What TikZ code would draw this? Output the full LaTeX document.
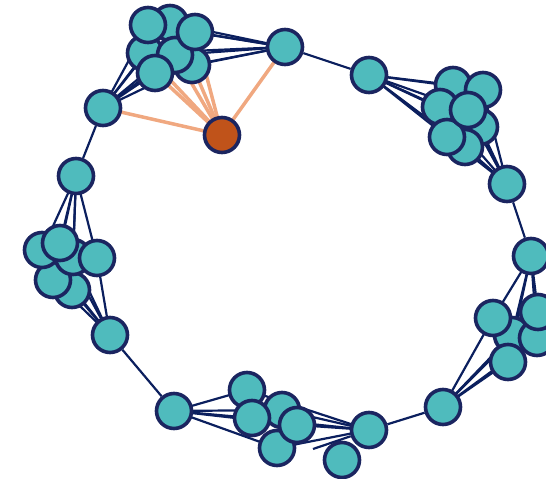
\documentclass[tikz,border=0pt]{standalone}
\pgfdeclarelayer{edges}
\pgfsetlayers{edges,main}
\definecolor{nodeteal}{HTML}{4FBBBD}
\definecolor{nodeline}{HTML}{1B2560}
\definecolor{edgenavy}{HTML}{0B1F5E}
\definecolor{seedred}{HTML}{C0531A}
\definecolor{edgeorange}{HTML}{F0A880}
\tikzset{
  vert/.style={circle, draw=nodeline, line width=3.6pt, fill=nodeteal, minimum size=35pt, inner sep=0pt},
  seed/.style={vert, fill=seedred},
  link/.style={edgenavy, line width=2.2pt},
  hotlink/.style={edgeorange, line width=3.5pt},
}
\begin{document}
\begin{tikzpicture}[x=1pt,y=-1pt]
  \useasboundingbox (0,0) rectangle (546,479);
  % Ring
  \foreach \n/\x/\y in {r1/285/47, r2/369/75, r3/507/184, r4/531/256, r5/443/407,
                        r6/369/430, r7/174/411, r8/110/335, r9/76/176, r10/103/108}
    \node[vert] (\n) at (\x,\y) {};
  \node[vert] (loose) at (342,460) {};
  \coordinate (tail) at (313,449);
  % Clusters
  \foreach \n/\x/\y in {a1/170/23, a2/145/53, a3/192/65, a4/175/55, a5/148/25, a6/195/32, a7/155/73}
    \node[vert] (\n) at (\x,\y) {};
  \foreach \n/\x/\y in {b1/453/85, b2/483/90, b3/480/127, b4/465/147, b5/440/107, b6/447/137, b7/468/110}
    \node[vert] (\n) at (\x,\y) {};
  \foreach \n/\x/\y in {c1/72/290, c2/53/280, c3/42/250, c4/73/257, c5/97/258, c6/60/243}
    \node[vert] (\n) at (\x,\y) {};
  \foreach \n/\x/\y in {d1/512/335, d2/537/338, d3/538/312, d4/493/318, d5/508/362}
    \node[vert] (\n) at (\x,\y) {};
  \foreach \n/\x/\y in {e1/247/390, e2/282/410, e3/252/418, e4/277/448, e5/297/425}
    \node[vert] (\n) at (\x,\y) {};
  % Seed
  \node[seed] (s) at (222,135) {};
  % Edges
  \begin{pgfonlayer}{edges}
    \draw[link] (r1) -- (r2) (r3) -- (r4) (r5) -- (r6) (r7) -- (r8) (r9) -- (r10);
    \draw[link] (r6) -- (tail);
    \foreach \i in {1,...,7} \draw[link] (r10.center) -- (a\i.center) -- (r1.center);
    \foreach \i in {1,...,7} \draw[link] (r2.center) -- (b\i.center) -- (r3.center);
    \foreach \i in {1,...,6} \draw[link] (r9.center) -- (c\i.center) -- (r8.center);
    \foreach \i in {1,...,5} \draw[link] (r4.center) -- (d\i.center) -- (r5.center);
    \foreach \i in {1,...,5} \draw[link] (r7.center) -- (e\i.center) -- (r6.center);
    \foreach \t in {r10,r1,a2,a3,a4,a6,a7} \draw[hotlink] (s.center) -- (\t.center);
  \end{pgfonlayer}
\end{tikzpicture}
\end{document}
